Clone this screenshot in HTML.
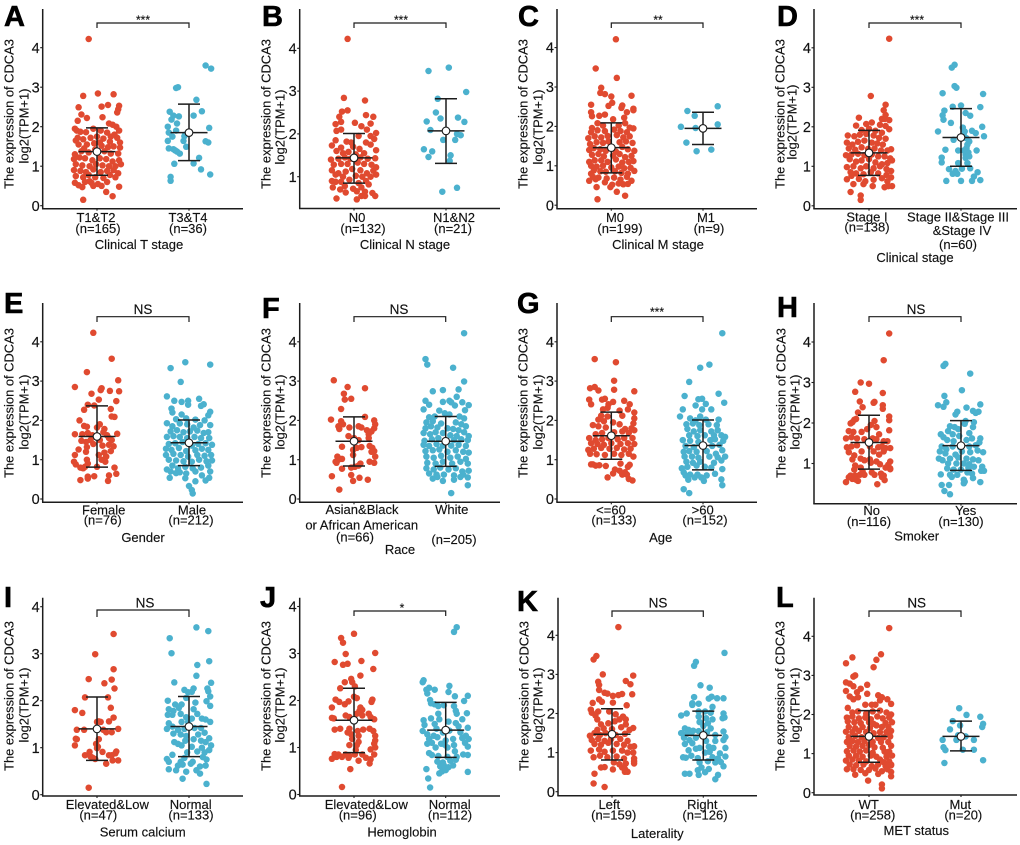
<!DOCTYPE html>
<html lang="en"><head><meta charset="utf-8"><title>CDCA3 expression by clinical subgroup</title>
<style>
html,body{margin:0;padding:0;background:#fff;width:1020px;height:845px;overflow:hidden}
svg{display:block;font-family:"Liberation Sans",Arial,sans-serif;fill:#111}
text{stroke:#111;stroke-width:.15px}
</style></head>
<body>
<svg id="fig" width="1020" height="845" viewBox="0 0 1020 845" xmlns="http://www.w3.org/2000/svg"></svg>
<script>
const panelLetters=["A","B","C","D","E","F","G","H","I","J","K","L"];
const xTitles=["Clinical T stage","Clinical N stage","Clinical M stage","Clinical stage","Gender","Race","Age","Smoker","Serum calcium","Hemoglobin","Laterality","MET status"];
const sigLabels=["***","***","**","***","NS","NS","***","NS","NS","*","NS","NS"];
const tickValues=[[0,1,2,3,4],[1,2,3,4],[0,1,2,3,4],[0,1,2,3,4],[0,1,2,3,4],[0,1,2,3,4],[0,1,2,3,4],[1,2,3,4],[0,1,2,3,4],[0,1,2,3,4],[0,1,2,3,4],[0,1,2,3,4]];
const tickLines=[["T1&T2","(n=165)","T3&T4","(n=36)"],["N0","(n=132)","N1&N2","(n=21)"],["M0","(n=199)","M1","(n=9)"],["Stage I","(n=138)","Stage II&Stage III","&Stage IV","(n=60)"],["Female","(n=76)","Male","(n=212)"],["Asian&Black","or African American","(n=66)","White","(n=205)"],["<=60","(n=133)",">60","(n=152)"],["No","(n=116)","Yes","(n=130)"],["Elevated&Low","(n=47)","Normal","(n=133)"],["Elevated&Low","(n=96)","Normal","(n=112)"],["Left","(n=159)","Right","(n=126)"],["WT","(n=258)","Mut","(n=20)"]];
const lowValues=[[.77,1.14],[.85,1.31],[.82,1.54],[.77,1.0],[.81,.85],[.84,.83],[1.01,.74],[.86,.83],[.73,.81],[.89,.79],[.81,.81],[.78,1.07]];
const meanValues=[[1.37,1.85],[1.44,2.07],[1.46,1.95],[1.34,1.73],[1.59,1.43],[1.47,1.47],[1.61,1.36],[1.52,1.44],[1.40,1.45],[1.58,1.37],[1.47,1.44],[1.44,1.44]];
const highValues=[[1.97,2.57],[2.01,2.82],[2.09,2.36],[1.91,2.46],[2.37,2.01],[2.09,2.10],[2.21,2.01],[2.19,2.06],[2.08,2.09],[2.26,1.96],[2.12,2.06],[2.10,1.83]];

// each point: [horizontal jitter in % of category spacing, expression value]
const seriesA1=[[-9,4.22],[-15,2.78],[1,2.84],[18,2.82],[-20,2.49],[5,2.51],[12,2.55],[24,2.53],[23,2.44],[22,2.36],[-17,2.31],[-11,2.22],[-21,2.15],[6,2.24],[-15,.15],[10,.35],[17,.24],[24,.48],[-24,1.95],[-22,1.9],[-18,1.87],[-12,1.86],[-4,1.95],[4,1.9],[13,2.08],[17,2.05],[21,2],[24,1.9],[11,1.85],[19,1.8],[-21,1.72],[-15,1.68],[-7,1.72],[0,1.75],[7,1.7],[14,1.62],[22,1.72],[25,1.6],[-20,1.55],[-11,1.55],[-3,1.58],[5,1.52],[12,1.48],[18,1.5],[25,1.47],[-24,1.3],[-17,1.38],[-9,1.35],[-2,1.42],[8,1.38],[15,1.32],[23,1.32],[-25,1.18],[-19,1.22],[-13,1.2],[-5,1.15],[3,1.2],[10,1.18],[17,1.12],[24,1.15],[-23,1.05],[-16,1.02],[-8,1],[-1,1.05],[6,1.02],[13,1],[20,1],[26,1.05],[-25,.9],[-18,.88],[-12,.85],[-4,.92],[4,.85],[11,.88],[18,.9],[23,.82],[-23,.75],[-15,.72],[-9,.78],[-2,.72],[7,.7],[14,.78],[20,.72],[-24,.58],[-20,.52],[-13,.6],[-6,.58],[1,.55],[5,.5],[11,.6],[-16,.47],[-4,.5],[-8,.62],[-14,1.45],[3,1.6],[15,1.75],[-23,1.65]];
const seriesA2=[[18,3.55],[24,3.47],[-14,2.98],[-12,3],[8,2.68],[14,2.39],[-21,2.38],[5,2.28],[-11,2.26],[-17,2.28],[-19,2.18],[-13,2.08],[-23,2],[22,1.97],[-14,1.9],[-22,1.85],[-5,1.76],[-18,1.75],[-23,1.64],[-6,1.64],[18,1.63],[21,1.6],[-3,1.49],[-22,1.45],[-17,1.43],[-13,1.37],[-10,1.32],[11,1.21],[-16,1.06],[5,1.07],[13,.92],[23,.79],[-20,.73],[-20,.63],[-4,1.8],[-15,1.4]];
const seriesB1=[[-7,4.22],[-11,2.84],[12,2.78],[-7,2.55],[-13,2.52],[-16,2.4],[13,2.44],[21,2.4],[-20,2.23],[-14,2.28],[1,2.26],[8,2.18],[18,2.24],[-19,2.07],[-14,2.1],[14,2.1],[-19,.49],[3,.47],[20,.62],[23,.55],[8,.55],[12,.55],[-9,.63],[-23,.75],[-20,.88],[24,2.02],[18,1.95],[22,1.88],[5,1.95],[-20,1.85],[-8,1.82],[-3,1.8],[13,1.8],[-24,1.73],[-14,1.68],[-1,1.7],[6,1.65],[18,1.75],[24,1.62],[-19,1.6],[-12,1.55],[-6,1.58],[2,1.52],[11,1.55],[-25,1.4],[-17,1.42],[-10,1.45],[-4,1.42],[7,1.45],[15,1.42],[23,1.43],[-22,1.28],[-14,1.3],[-7,1.3],[4,1.33],[11,1.3],[19,1.28],[24,1.22],[-24,1.15],[-17,1.08],[-9,1.12],[-2,1.18],[7,1.15],[14,1.08],[21,1.14],[-20,1.05],[-12,1],[2,1.02],[9,1],[18,1],[24,1.05],[-14,.88],[-5,.93],[5,.85],[13,.9],[-24,.9],[-10,.78],[-1,.72],[8,.75],[16,.82],[-15,.7],[3,.66],[12,.65]];
const seriesB2=[[3,3.55],[-19,3.47],[22,2.98],[-9,2.82],[-11,2.5],[-6,2.36],[13,2.38],[-21,2.29],[20,2.28],[-17,2.09],[12,2],[16,1.97],[-3,1.86],[10,1.86],[-24,1.64],[-15,1.59],[5,1.5],[-19,1.46],[4,1.37],[-4,.65],[12,.74]];
const seriesC1=[[5,4.21],[-17,3.47],[6,3.23],[-11,2.98],[-12,2.85],[-7,2.82],[0,2.76],[22,2.78],[-22,2.55],[1,2.6],[-3,2.52],[12,2.53],[11,2.47],[24,2.45],[-22,2.36],[-21,2.26],[-13,2.27],[-7,2.3],[14,2.22],[17,2.36],[24,2.41],[-15,.15],[6,.34],[15,.24],[-16,.46],[-24,.62],[-22,.8],[-24,1.1],[-21,1.96],[-15,2.08],[-9,2.02],[2,2.18],[8,2.02],[15,2.08],[20,1.97],[24,1.95],[-22,1.85],[-15,1.9],[-7,1.88],[3,1.92],[10,1.88],[17,1.85],[-25,1.7],[-18,1.75],[-11,1.72],[-4,1.76],[6,1.78],[13,1.72],[20,1.75],[-23,1.55],[-16,1.6],[-9,1.58],[-3,1.62],[9,1.6],[16,1.62],[23,1.58],[-24,1.4],[-19,1.45],[-12,1.42],[-6,1.38],[5,1.36],[12,1.48],[18,1.42],[25,1.38],[-21,1.28],[-14,1.3],[-8,1.24],[2,1.26],[9,1.3],[15,1.22],[22,1.25],[-18,1.14],[-11,1.14],[-4,1.1],[5,1.16],[12,1.08],[19,1.1],[24,1.12],[-22,1],[-16,.98],[-9,1],[0,.96],[8,.98],[14,.94],[21,.95],[-19,.88],[-12,.86],[-6,.85],[4,.86],[11,.82],[18,.8],[25,.87],[-20,.72],[-14,.7],[-5,.68],[3,.7],[10,.65],[17,.72],[22,.62],[-17,.66],[-7,.58],[1,.52],[8,.55],[13,.53],[-1,.46],[18,.54]];
const seriesC2=[[-17,2.39],[16,2.51],[-9,2.27],[16,2.05],[-24,1.99],[-8,1.96],[-18,1.59],[9,1.41],[-7,1.37]];
const seriesD1=[[22,4.23],[2,2.78],[18,2.56],[16,2.42],[18,2.3],[22,2.17],[17,2.2],[14,2.2],[-11,2.23],[-3,2.07],[3,2.11],[22,1.94],[-20,.35],[-9,.26],[-9,.15],[-14,2.03],[12,2.05],[18,2.02],[-8,1.92],[0,1.95],[7,1.9],[14,1.85],[-23,1.78],[-16,1.76],[-10,1.8],[-3,1.82],[5,1.78],[11,1.72],[18,1.7],[-24,1.6],[-18,1.55],[-12,1.62],[-5,1.65],[3,1.6],[9,1.58],[15,1.55],[-22,1.45],[-15,1.42],[-8,1.48],[-1,1.44],[6,1.45],[13,1.4],[20,1.4],[24,1.43],[-25,1.28],[-19,1.3],[-12,1.32],[-5,1.28],[3,1.3],[10,1.25],[17,1.25],[23,1.2],[-21,1.18],[-14,1.12],[-8,1.15],[0,1.18],[7,1.1],[14,1.05],[20,1.08],[25,1.15],[-24,.98],[-17,1],[-9,.95],[-3,1],[5,.95],[12,1],[19,.93],[24,.88],[-20,.85],[-14,.82],[-6,.8],[2,.85],[10,.82],[19,.78],[24,.72],[-24,.67],[-19,.76],[-11,.68],[-4,.62],[5,.66],[14,.7],[20,.62],[25,.5],[-17,.55],[-6,.55],[4,.5],[17,.47],[21,.5]];
const seriesD2=[[-7,3.57],[-10,3.5],[-7,3.03],[-5,2.99],[-20,2.85],[24,2.83],[-9,2.51],[0,2.54],[21,2.5],[-18,2.41],[-20,2.29],[5,2.35],[10,2.28],[-19,2.18],[-11,2.1],[-25,1.88],[2,1.98],[23,2],[4,1.88],[12,1.9],[16,1.84],[25,1.76],[-8,1.67],[6,1.71],[9,1.63],[-17,1.42],[-3,1.4],[6,1.46],[17,1.4],[5,1.29],[-21,1.22],[5,1.21],[-21,1.1],[7,1.08],[-3,1.08],[-13,.93],[1,.94],[10,.95],[18,.85],[-9,.81],[-4,.81],[14,.74],[-16,.63],[0,.63],[12,.63],[21,.65],[-6,.88],[8,1.35],[3,1.78],[7,1.55],[3,1.4],[9,1.25]];
const seriesE1=[[-4,4.23],[16,3.57],[-11,3.23],[23,3.02],[-24,2.85],[5,2.82],[4,2.77],[14,2.75],[24,2.74],[-6,2.68],[2,2.53],[21,2.49],[-10,2.4],[-14,2.27],[15,2.29],[16,2.1],[19,2.09],[-19,2],[-3,2.38],[-14,1.86],[-11,1.84],[3,1.9],[0,1.82],[8,1.78],[-24,1.65],[-16,1.65],[-10,1.68],[-5,1.62],[7,1.7],[11,1.62],[22,1.66],[-17,1.48],[-12,1.45],[-7,1.5],[3,1.5],[13,1.55],[16,1.5],[-20,1.26],[-11,1.32],[-4,1.4],[6,1.36],[13,1.38],[18,1.34],[-24,1.12],[-12,1.2],[2,1.12],[8,1.18],[10,1.08],[15,1.22],[-25,.95],[-23,.88],[-11,1],[-10,.9],[5,1],[9,.95],[-18,.8],[-15,.78],[-13,.82],[0,.82],[-18,.48],[-10,.57],[-3,.58],[13,.6],[12,.46],[21,.64],[19,.8],[-10,.52]];
const seriesE2=[[-20,3.33],[-4,3.48],[23,3.42],[-9,2.98],[-24,2.61],[11,2.55],[-16,2.5],[-1,2.5],[-8,2.47],[16,2.41],[13,2.37],[-1,2.4],[-19,2.3],[23,2.22],[21,2.13],[4,.14],[3,.23],[0,.33],[-21,.54],[7,.45],[18,.47],[22,.54],[-4,.53],[-18,2.2],[-8,2.15],[-14,2.03],[-3,2.05],[7,2.02],[17,2],[-24,1.93],[-18,1.85],[-10,1.92],[-2,1.9],[5,1.82],[12,1.88],[23,1.88],[-20,1.72],[-13,1.75],[-6,1.7],[1,1.72],[9,1.74],[16,1.68],[21,1.7],[-24,1.58],[-17,1.6],[-10,1.58],[-2,1.55],[6,1.58],[13,1.55],[22,1.55],[-22,1.4],[-15,1.42],[-7,1.45],[3,1.36],[10,1.4],[18,1.42],[25,1.38],[-25,1.28],[-19,1.25],[-11,1.3],[-3,1.22],[7,1.24],[14,1.28],[21,1.25],[-25,1.12],[-17,1.15],[-9,1.12],[-1,1.08],[9,1.12],[17,1.1],[24,1.12],[-22,1],[-14,.98],[-6,.96],[3,.95],[11,1],[19,.96],[25,.98],[-24,.75],[-18,.85],[-12,.78],[-4,.82],[4,.78],[13,.8],[21,.85],[-20,.7],[-10,.68],[-3,.65],[7,.7],[14,.6],[23,.7],[-14,.66]];
const seriesF1=[[-22,3.02],[-7,2.85],[12,2.82],[-11,2.68],[-3,2.55],[-10,2.53],[-14,2.29],[12,2.09],[-25,2.02],[-16,.24],[15,.49],[-1,.46],[6,.54],[-3,.61],[-24,.58],[-13,.77],[-14,1.98],[22,2],[23,1.9],[22,1.8],[19,1.72],[-17,1.85],[-16,1.78],[-12,1.9],[-5,1.82],[5,1.85],[8,1.82],[14,1.75],[16,1.65],[-6,1.6],[0,1.55],[5,1.5],[16,1.55],[-13,1.33],[-1,1.25],[3,1.3],[8,1.32],[17,1.35],[20,1.3],[19,1.2],[22,1.22],[-1,1.12],[-18,1.08],[-20,.95],[-17,1],[-13,1.02],[23,1.08],[17,.95],[22,.92],[7,.9],[5,.85],[1,.82],[-19,.92],[-3,.8]];
const seriesF2=[[20,4.22],[-22,3.56],[-20,3.42],[8,3.34],[20,2.99],[14,2.79],[-14,2.74],[-3,2.77],[12,2.6],[-22,2.5],[-18,2.4],[-3,2.47],[4,2.5],[6,2.46],[10,2.38],[18,2.46],[25,2.39],[-24,2.28],[-7,2.25],[21,2.26],[6,.15],[24,.35],[-3,.46],[9,.49],[-1,2.18],[-18,2.08],[-12,2.1],[4,2.15],[15,2.1],[20,2.05],[-21,1.95],[-14,1.98],[-5,1.92],[11,1.95],[17,1.9],[22,1.85],[-22,1.8],[-16,1.85],[-9,1.82],[2,1.8],[8,1.78],[14,1.75],[-24,1.68],[-17,1.65],[-11,1.7],[-3,1.68],[5,1.62],[12,1.6],[20,1.7],[25,1.6],[-23,1.48],[-15,1.52],[-8,1.55],[0,1.5],[9,1.5],[17,1.52],[24,1.5],[-24,1.38],[-18,1.35],[-10,1.4],[-3,1.36],[6,1.36],[14,1.38],[22,1.35],[-22,1.22],[-14,1.24],[-7,1.26],[2,1.2],[11,1.24],[19,1.2],[25,1.18],[-21,1.08],[-13,1.05],[-5,1.1],[5,1.05],[13,1.08],[22,1.02],[-20,.92],[-11,.9],[-3,.95],[7,.9],[16,.95],[24,.9],[-21,.78],[-13,.75],[-6,.8],[3,.75],[11,.78],[18,.7],[25,.72],[-18,.65],[-10,.62],[-2,.62],[9,.6],[19,.62],[-14,.52],[-9,.56],[24,.55],[16,.56]];
const seriesG1=[[-18,3.56],[5,3.48],[3,3.01],[-23,2.82],[-18,2.85],[-14,2.76],[3,2.78],[25,2.74],[-24,2.53],[-22,2.41],[-10,2.53],[-7,2.55],[14,2.5],[2,2.47],[-3,2.41],[20,2.41],[25,2.2],[-4,.55],[2,.65],[23,.47],[19,.51],[20,.87],[-9,2.28],[-4,2.32],[9,2.25],[18,2.28],[-11,2.12],[-4,2.1],[12,2.12],[25,2.05],[-14,2.02],[-8,1.98],[2,1.95],[9,1.9],[24,1.92],[-20,1.88],[-14,1.85],[-6,1.82],[15,1.78],[22,1.8],[25,1.75],[-17,1.65],[-10,1.68],[3,1.7],[12,1.72],[19,1.68],[-24,1.55],[-17,1.5],[-10,1.52],[-3,1.55],[7,1.52],[14,1.55],[23,1.55],[-22,1.42],[-15,1.4],[-8,1.38],[0,1.42],[10,1.4],[18,1.42],[25,1.4],[-25,1.25],[-19,1.28],[-11,1.3],[-2,1.28],[6,1.3],[14,1.26],[21,1.28],[-23,1.15],[-16,1.14],[-7,1.12],[3,1.15],[11,1.12],[19,1.15],[24,1.08],[-20,.88],[-17,.85],[-13,.86],[-6,.84],[10,.9],[18,.82],[4,.75],[9,.72],[15,.68],[12,.62],[17,.62],[-22,.88]];
const seriesG2=[[21,4.22],[7,3.42],[-3,3.34],[-15,2.98],[17,2.68],[-20,2.62],[-5,2.54],[-1,2.55],[23,2.45],[3,2.42],[-8,2.38],[-22,2.28],[9,2.28],[-1,2.28],[-25,2.1],[-3,2.1],[-21,.25],[-15,.15],[21,.35],[20,.5],[1,.46],[-16,.49],[-14,2.05],[-8,2],[3,2.02],[17,2.02],[-18,1.9],[-11,1.92],[-4,1.88],[6,1.9],[15,1.88],[-17,1.78],[-10,1.72],[-3,1.75],[9,1.72],[16,1.75],[-15,1.62],[-6,1.6],[2,1.62],[12,1.62],[20,1.62],[24,1.58],[-22,1.5],[-14,1.48],[-5,1.45],[8,1.5],[13,1.52],[22,1.48],[-19,1.35],[-10,1.32],[-1,1.36],[10,1.35],[18,1.38],[-21,1.2],[-15,1.22],[-7,1.2],[4,1.22],[14,1.15],[21,1.24],[-20,1.08],[-12,1.08],[-5,1.05],[7,1.08],[16,1.06],[24,1.08],[-18,.95],[-11,.92],[-3,.95],[12,.92],[20,.98],[-23,.78],[-17,.82],[-7,.85],[2,.82],[9,.8],[21,.76],[-21,.68],[-14,.62],[-6,.62],[4,.6],[13,.64],[-19,.6],[-9,.55],[-2,.55]];
const seriesH1=[[22,4.21],[16,3.55],[-9,3],[0,2.97],[-15,2.77],[15,2.74],[-10,2.53],[6,2.52],[5,2.5],[-7,2.39],[15,2.44],[15,2.35],[-12,2.26],[22,2.16],[22,2.07],[-16,2.08],[-20,1.99],[-25,.54],[9,.49],[-12,.57],[17,.59],[14,.67],[23,.86],[-14,2.1],[-18,2.02],[6,2.05],[2,1.95],[8,1.9],[22,1.82],[-22,1.8],[-17,1.78],[-8,1.78],[-2,1.85],[11,1.72],[-25,1.62],[-19,1.65],[-13,1.62],[-5,1.6],[4,1.62],[8,1.6],[16,1.55],[20,1.55],[-24,1.4],[-19,1.42],[-13,1.45],[1,1.42],[10,1.4],[14,1.42],[18,1.38],[23,1.38],[-22,1.28],[-16,1.2],[-8,1.3],[5,1.3],[11,1.22],[16,1.3],[-18,1.1],[-9,1.12],[-5,1.08],[1,1.1],[8,1.05],[23,1.05],[-15,.95],[-9,.9],[2,1.02],[12,.98],[21,.97],[18,.9],[23,.88],[-16,.85],[-7,.8],[3,.78],[13,.75],[-20,.7],[-15,.7],[-10,.72],[-5,.72],[6,.72],[-18,.62],[-22,.66],[16,.7],[-14,.6]];
const seriesH2=[[-17,3.46],[-19,3.41],[10,3.22],[1,2.81],[-18,2.67],[-16,2.51],[-25,2.44],[-19,2.4],[21,2.46],[6,2.38],[-4,2.28],[13,2.3],[19,2.28],[16,2.25],[-6,2.21],[-12,.24],[-18,.32],[-13,.47],[-21,.47],[21,.54],[3,.51],[5,2.05],[-12,1.92],[-7,1.9],[14,2.02],[13,1.9],[4,1.98],[-3,1.85],[-14,1.8],[-22,1.72],[-19,1.65],[-9,1.72],[-2,1.68],[9,1.75],[21,1.62],[-15,1.58],[-8,1.55],[6,1.58],[12,1.62],[20,1.52],[-21,1.42],[-16,1.35],[-9,1.42],[-1,1.4],[9,1.42],[16,1.45],[24,1.28],[-23,1.3],[-17,1.25],[-6,1.22],[1,1.3],[10,1.28],[18,1.32],[-24,1.12],[-20,1.08],[-12,1.12],[-3,1.15],[6,1.12],[13,1.1],[19,1.08],[-14,1],[-5,1],[3,1],[9,.98],[-15,.88],[-8,.85],[0,.85],[8,.9],[14,.92],[23,.92],[22,.82],[25,.82],[-22,.73],[-12,.72],[-4,.72],[7,.78],[12,.75],[-10,.67],[3,.6],[13,.64],[4,.55]];
const seriesI1=[[18,3.42],[-2,2.99],[18,2.67],[-9,2.46],[16,2.45],[8,2.37],[19,2.26],[-13,2.07],[12,2.07],[15,1.85],[-24,1.8],[-16,1.74],[18,1.64],[13,1.56],[2,1.56],[4,1.55],[0,1.55],[-22,1.38],[-14,1.38],[23,1.4],[10,1.33],[16,1.33],[7,1.38],[-23,1.19],[-22,1.18],[-24,1.05],[-1,1.08],[1,1.02],[-8,.91],[6,.91],[21,.92],[20,.88],[-13,.84],[13,.84],[16,.84],[-5,.79],[-2,.76],[17,.73],[23,.73],[10,.66],[-9,.15],[-7,.81],[2,1.18],[0,.99]];
const seriesI2=[[8,3.56],[21,3.48],[-21,3.33],[-19,3.01],[9,2.76],[22,2.84],[8,2.53],[-16,2.39],[24,2.38],[20,2.26],[-5,2.23],[5,2.26],[3,2.19],[21,2.2],[-1,2.18],[23,2.09],[-3,2.06],[19,1.99],[-23,2],[23,1.89],[19,.23],[-7,.34],[-22,.54],[-14,.52],[-3,.49],[12,.45],[8,.52],[-15,1.92],[-8,1.92],[7,1.96],[-22,1.82],[-17,1.78],[-11,1.85],[5,1.82],[-23,1.7],[-18,1.7],[-9,1.72],[9,1.72],[14,1.62],[-3,1.65],[3,1.62],[-22,1.52],[-8,1.55],[-1,1.55],[18,1.6],[23,1.55],[-24,1.4],[-18,1.45],[-12,1.38],[-5,1.4],[6,1.42],[13,1.42],[-17,1.3],[-9,1.28],[-3,1.25],[10,1.28],[17,1.32],[22,1.2],[-16,1.12],[-12,1.08],[-4,1.15],[5,1.18],[13,1.15],[18,1.12],[24,1.05],[-8,1.05],[3,1.02],[14,1],[22,.95],[-18,.85],[-2,.9],[9,.92],[17,.9],[-24,.76],[-22,.7],[-9,.7],[-5,.78],[4,.7],[15,.8],[19,.75],[-12,.62],[-7,.64],[2,.66],[12,.6],[18,.62]];
const seriesJ1=[[0,3.42],[-14,3.33],[-12,3.23],[-9,2.99],[23,3.01],[-21,2.82],[-12,2.76],[-7,2.78],[8,2.84],[21,2.67],[7,2.53],[-3,2.46],[-10,2.39],[-2,2.39],[-15,2.26],[1,2.3],[-13,.16],[-4,.54],[17,.66],[20,2.02],[19,1.97],[0,2.08],[-20,2.02],[-16,1.97],[-10,1.92],[-6,1.98],[3,2.05],[-24,1.85],[7,1.85],[6,1.78],[9,1.8],[3,1.72],[16,1.72],[-24,1.63],[-22,1.62],[-9,1.68],[-5,1.65],[9,1.68],[18,1.65],[22,1.6],[-21,1.38],[-15,1.4],[-7,1.32],[-5,1.4],[4,1.35],[10,1.38],[17,1.4],[21,1.35],[-3,1.28],[5,1.25],[23,1.25],[23,1.15],[-2,1.18],[5,1.12],[22,1.08],[3,1.05],[-5,1.05],[18,.96],[23,1],[2,.95],[-21,.86],[-17,.85],[-13,.8],[-9,.85],[-5,.82],[1,.85],[9,.85],[22,.85],[-24,.76],[-19,.8],[-6,.78],[5,.72],[13,.78],[18,.75]];
const seriesJ2=[[12,3.56],[9,3.46],[-24,2.43],[-25,2.39],[4,2.31],[-18,2.27],[-21,2.23],[-12,2.23],[3,2.18],[-20,2.15],[24,2.1],[10,2.09],[-17,2.01],[20,1.99],[-16,1.94],[-17,.15],[-19,.34],[-21,.54],[24,.48],[-7,.45],[-4,.49],[-12,1.92],[-8,1.88],[-2,1.9],[9,1.88],[11,1.78],[-8,1.72],[12,1.72],[23,1.73],[-16,1.62],[-7,1.6],[18,1.6],[-24,1.58],[-23,1.48],[-12,1.5],[3,1.55],[11,1.52],[14,1.45],[24,1.42],[-25,1.35],[-20,1.28],[-10,1.4],[-3,1.32],[4,1.36],[16,1.32],[-18,1.18],[-13,1.25],[-9,1.22],[0,1.15],[8,1.18],[18,1.2],[22,1.25],[25,1.18],[-20,1.08],[-15,1.1],[-5,1.08],[2,1],[9,1.05],[21,1.1],[24,1.02],[-11,1],[-1,1.06],[10,.92],[19,.85],[-18,.88],[-15,.84],[-8,.82],[2,.8],[12,.8],[24,.84],[-9,.7],[-3,.68],[5,.72],[11,.74],[-6,.6],[-2,.62],[3,.58],[8,.62],[0,.52]];
const seriesK1=[[7,4.21],[-17,3.47],[-20,3.38],[-10,3],[23,2.97],[15,2.83],[20,2.75],[-15,2.81],[-14,2.73],[-14,2.6],[-8,2.53],[-5,2.51],[1,2.45],[7,2.47],[11,2.5],[22,2.49],[-14,2.36],[-11,2.3],[-21,2.27],[1,2.28],[16,2.21],[-8,.12],[-20,.21],[-19,.46],[14,.51],[17,.51],[1,.57],[-23,2.1],[-22,2.02],[-15,2.05],[-18,1.95],[-16,1.85],[-3,2.05],[4,1.98],[12,1.92],[8,1.85],[15,1.85],[-12,1.72],[-4,1.75],[3,1.8],[15,1.72],[10,1.65],[23,1.63],[-16,1.58],[-9,1.62],[0,1.6],[19,1.58],[-24,1.43],[-19,1.5],[-13,1.45],[-7,1.5],[4,1.45],[14,1.48],[-22,1.32],[-15,1.35],[-8,1.3],[-1,1.35],[9,1.35],[17,1.3],[-19,1.22],[-12,1.2],[-4,1.25],[5,1.22],[13,1.2],[20,1.15],[24,1.16],[-23,1.05],[-14,1.08],[-8,1.02],[1,1.05],[11,1.05],[17,1],[23,1],[-20,.88],[-13,.92],[-5,.88],[5,.9],[13,.85],[24,.85],[-12,.62],[-8,.63],[2,.75],[8,.7],[15,.72],[24,.72],[24,.78],[11,.62],[14,.58]];
const seriesK2=[[23,3.55],[-8,3.32],[-10,3.22],[-3,2.72],[7,2.66],[-10,2.42],[9,2.43],[15,2.39],[22,2.39],[6,2.38],[-12,2.26],[-5,2.25],[10,2.17],[-12,2.22],[-18,2],[-24,1.95],[13,.32],[16,.43],[-20,.46],[-15,.46],[-5,.43],[-5,2.05],[2,2.05],[8,2.02],[22,2],[23,1.9],[-5,1.92],[3,1.88],[10,1.85],[21,1.88],[-4,1.78],[5,1.75],[0,1.68],[8,1.62],[22,1.54],[-20,1.62],[-16,1.58],[-11,1.56],[-24,1.5],[-18,1.48],[-13,1.5],[-5,1.55],[4,1.52],[13,1.45],[24,1.4],[-21,1.38],[-15,1.32],[-8,1.38],[3,1.3],[13,1.3],[22,1.32],[-20,1.22],[-12,1.24],[-4,1.12],[6,1.15],[11,1.12],[24,1.12],[-16,1.06],[-8,1.1],[2,1],[7,1.02],[18,.98],[-22,.88],[-19,.87],[-13,.92],[-6,.86],[10,.88],[16,.85],[24,.9],[-4,.75],[5,.78],[13,.75],[19,.76],[22,.65],[-2,.62],[6,.58],[-6,.55],[2,.5]];
const seriesL1=[[22,4.21],[-18,3.46],[13,3.54],[8,3.4],[-25,3.31],[5,3.21],[-15,3],[-17,2.97],[-25,2.82],[-21,2.79],[-17,2.72],[-2,2.76],[-25,2.6],[-9,2.66],[-13,2.57],[-2,2.53],[-21,2.46],[-17,2.39],[-12,2.44],[10,2.49],[14,2.44],[20,2.39],[12,2.36],[24,2.27],[-4,2.25],[3,2.25],[7,2.25],[-23,2.17],[14,.11],[14,.21],[-1,.31],[-15,.46],[24,.42],[24,.53],[-18,2.05],[-12,2.08],[-3,2.02],[4,2.08],[12,2.1],[19,2.05],[24,2],[-24,1.92],[-18,1.95],[-11,1.9],[-4,1.92],[2,1.88],[9,1.95],[15,1.9],[22,1.92],[-23,1.82],[-16,1.8],[-9,1.78],[0,1.8],[5,1.76],[18,1.78],[25,1.8],[-22,1.68],[-15,1.65],[-7,1.68],[1,1.65],[8,1.72],[14,1.68],[21,1.68],[-25,1.56],[-18,1.55],[-11,1.58],[-3,1.55],[5,1.52],[12,1.55],[19,1.55],[24,1.58],[-22,1.42],[-15,1.45],[-8,1.42],[1,1.42],[10,1.4],[16,1.42],[23,1.44],[-24,1.3],[-18,1.32],[-12,1.3],[-5,1.32],[4,1.3],[13,1.3],[21,1.3],[-21,1.2],[-14,1.18],[-7,1.2],[0,1.22],[6,1.16],[15,1.15],[24,1.2],[-24,1.06],[-17,1.08],[-10,1.05],[-3,1.08],[4,1.02],[17,1.05],[22,1.05],[-22,.95],[-14,.95],[-7,.92],[2,.95],[8,.92],[19,.92],[25,.95],[-25,.82],[-18,.85],[-11,.82],[-3,.8],[12,.85],[16,.78],[22,.8],[-21,.72],[-14,.7],[-6,.72],[3,.68],[10,.72],[18,.68],[24,.72],[-24,.6],[-17,.6],[-9,.58],[0,.58],[7,.62],[14,.55],[20,.6],[-4,.5],[10,.48],[24,.7]];
const seriesL2=[[-2,2.16],[6,1.99],[21,1.94],[-9,1.83],[24,1.76],[23,1.68],[-12,1.62],[-1,1.72],[-20,1.35],[-4,1.38],[-5,1.35],[14,1.35],[-19,1.16],[-17,1.09],[2,1.1],[14,1.1],[24,.83],[-18,.76],[5,1.44],[-3,1.47]];

const seriesByPanel=[[seriesA1,seriesA2],[seriesB1,seriesB2],[seriesC1,seriesC2],[seriesD1,seriesD2],[seriesE1,seriesE2],[seriesF1,seriesF2],[seriesG1,seriesG2],[seriesH1,seriesH2],[seriesI1,seriesI2],[seriesJ1,seriesJ2],[seriesK1,seriesK2],[seriesL1,seriesL2]];

// layout only
const R1=[222,233], R2=[514.7,524.7], R3=[809,819.7];
const layouts=[
{ax:42.7,top:9,bot:208.7,right:243,v0:205.7,unit:39.5,c:[97,189],br:23,drop:28,sy:24,t1:[9,114],t2:[24,126],let:[4,26],sx:143,tick:[[96,R1[0]],[98,R1[1]],[188,R1[0]],[188,R1[1]]],xt:[139,249]},
{ax:299.7,top:9,bot:208.5,right:500,v0:219.5,unit:42.8,c:[354,446],br:23,drop:28,sy:24,t1:[266,114],t2:[280,127],let:[262,26],sx:401,tick:[[357,R1[0]],[363,R1[1]],[454,R1[0]],[453,R1[1]]],xt:[405,249]},
{ax:557,top:9,bot:208.7,right:757,v0:205.2,unit:39.4,c:[611.3,703],br:23,drop:28,sy:24,t1:[523,114],t2:[538,127],let:[518,26],sx:658,tick:[[615,R1[0]],[620,R1[1]],[706,R1[0]],[709,R1[1]]],xt:[658,249]},
{ax:814,top:9,bot:208.7,right:1017,v0:205.8,unit:39.5,c:[869,961],br:23,drop:28,sy:24,t1:[780,114],t2:[792,122],let:[777,26],sx:917,tick:[[867,221.5],[867,231.5],[958,221.5],[962,235],[958,249]],xt:[915,262]},
{ax:42.7,top:303,bot:502.3,right:243,v0:499,unit:39.3,c:[97,189],br:316.7,drop:322,sy:314,t1:[9,403],t2:[24,412],let:[4,313],sx:143,tick:[[103.7,R2[0]],[102.7,R2[1]],[192,R2[0]],[191,R2[1]]],xt:[143,542]},
{ax:299.7,top:303,bot:502.3,right:500,v0:499,unit:39.3,c:[354,445.7],br:316.7,drop:322,sy:314,t1:[266,403],t2:[280,412],let:[262,318],sx:399,tick:[[362,514],[361.7,529.7],[355,541.7],[451.7,514],[454,544]],xt:[400,554]},
{ax:557,top:303,bot:502.3,right:757,v0:499,unit:39.3,c:[611.3,703],br:316.7,drop:322,sy:316,t1:[523,403],t2:[538,412],let:[517,313],sx:657,tick:[[611,R2[0]],[614,R2[1]],[702.7,R2[0]],[705,R2[1]]],xt:[660.7,542]},
{ax:814,top:303,bot:503.7,right:1017,v0:504,unit:40.5,c:[869,961],br:316.7,drop:322,sy:314,t1:[781,403],t2:[795,412],let:[777,317],sx:916,tick:[[871.7,515],[869,526],[965.7,515],[961,526]],xt:[916.7,540.7]},
{ax:42.7,top:597.7,bot:796,right:243,v0:794.7,unit:47,c:[97,189],br:610,drop:617,sy:607.3,t1:[9,696],t2:[24,705],let:[4,607],sx:145,tick:[[107.3,R3[0]],[98.3,R3[1]],[190.7,R3[0]],[191,R3[1]]],xt:[142.7,836.7]},
{ax:299.7,top:597.7,bot:796,right:500,v0:794.5,unit:47,c:[354,445.7],br:611,drop:616,sy:612,t1:[266,696],t2:[280,705],let:[260,607],sx:402,tick:[[366.3,R3[0]],[357.7,R3[1]],[449.7,R3[0]],[450,R3[1]]],xt:[402,836.7]},
{ax:558,top:597.7,bot:795.7,right:757,v0:791.7,unit:39.1,c:[612,703.3],br:611,drop:617,sy:607.3,t1:[524,696],t2:[538,705],let:[517,611],sx:658,tick:[[609.3,R3[0]],[613.7,R3[1]],[702.3,R3[0]],[705,R3[1]]],xt:[657.3,838]},
{ax:814,top:597.7,bot:795,right:1017,v0:792.7,unit:39.1,c:[869,961],br:611,drop:617,sy:607.3,t1:[780,696],t2:[795,705],let:[776,607],sx:916.7,tick:[[868.7,R3[0]],[872.7,R3[1]],[960.3,R3[0]],[963.3,R3[1]]],xt:[916.3,835]}
];
const groupColors=["#E04A30","#4BB1CE"];
const inkColor="#1c1c1c";
const categorySpacing=92;
const svgNS="http://www.w3.org/2000/svg";
const root=document.getElementById("fig");

function shape(parent,tag,attrs,name){
  const e=document.createElementNS(svgNS,tag);
  for(const k in attrs)e.setAttribute(k,attrs[k]);
  
  
  parent.appendChild(e);
  return e;
}
function label(parent,str,x,y,size,name,anchor,extra){
  const t=shape(parent,"text",Object.assign({x:x,y:y,"font-size":size,"text-anchor":anchor||"middle"},extra||{}),name);
  t.textContent=str;
  return t;
}
function line(parent,x1,y1,x2,y2,w,name){
  return shape(parent,"line",{x1:x1,y1:y1,x2:x2,y2:y2,stroke:inkColor,"stroke-width":w},name);
}

panelLetters.forEach(function(letter,p){
  const L=layouts[p];
  const yScale=function(v){return L.v0-v*L.unit;};
  const xScale=function(g,j){return L.c[g]+(j/100)*categorySpacing;};
  const prefix="panel-"+letter.toLowerCase();
  const g=shape(root,"g",{},prefix);

  label(g,letter,L.let[0],L.let[1],29,prefix+"-letter","start",{"font-weight":"bold",fill:"#000",style:"stroke:#000;stroke-width:.6px"});

  seriesByPanel[p].forEach(function(points,gi){
    const sg=shape(g,"g",{fill:groupColors[gi]},prefix+"-group-"+(gi+1)+"-points");
    points.forEach(function(pt){
      shape(sg,"circle",{cx:xScale(gi,pt[0]).toFixed(1),cy:yScale(pt[1]).toFixed(1),r:3.25},"data-point");
    });
  });

  [0,1].forEach(function(gi){
    const cx=L.c[gi];
    const yl=yScale(lowValues[p][gi]),ym=yScale(meanValues[p][gi]),yh=yScale(highValues[p][gi]);
    line(g,cx,yh,cx,yl,1.5,prefix+"-error-bar");
    line(g,cx-11,yh,cx+11,yh,1.5,prefix+"-upper-cap");
    line(g,cx-11,yl,cx+11,yl,1.5,prefix+"-lower-cap");
    line(g,cx-18.5,ym,cx+18.5,ym,1.5,prefix+"-mean-line");
    shape(g,"circle",{cx:cx,cy:ym,r:3.8,fill:"#fff",stroke:inkColor,"stroke-width":1.1},prefix+"-mean-marker");
  });

  line(g,L.ax,L.top,L.ax,L.bot,1.5,prefix+"-y-axis");
  line(g,L.ax-.7,L.bot,L.right,L.bot,1.5,prefix+"-x-axis");
  tickValues[p].forEach(function(v){
    const y=yScale(v);
    line(g,L.ax-2.5,y,L.ax,y,1.1,prefix+"-y-tick");
    label(g,String(v),L.ax-3,y+5.1,14.5,prefix+"-y-tick-label","end");
  });
  L.c.forEach(function(cx){
    line(g,cx,L.bot,cx,L.bot+2,1.1,prefix+"-x-tick");
  });

  tickLines[p].forEach(function(str,i){
    label(g,str,L.tick[i][0],L.tick[i][1],13,prefix+"-x-tick-label");
  });
  label(g,xTitles[p],L.xt[0],L.xt[1],13,prefix+"-x-axis-title");

  label(g,"The expression of CDCA3",0,0,12.9,prefix+"-y-axis-title",null,{transform:"translate("+(L.t1[0]+4.5)+","+L.t1[1]+") rotate(-90)"});
  label(g,"log2(TPM+1)",0,0,12.9,prefix+"-y-axis-subtitle",null,{transform:"translate("+(L.t2[0]+4.5)+","+L.t2[1]+") rotate(-90)"});

  shape(g,"path",{d:"M"+L.c[0]+" "+L.drop+"V"+L.br+"H"+L.c[1]+"V"+L.drop,fill:"none",stroke:inkColor,"stroke-width":1.2},prefix+"-significance-bracket");
  const isNS=sigLabels[p]==="NS";
  label(g,sigLabels[p],L.sx,L.sy,isNS?13.5:12,prefix+"-significance-label");
});
</script>
</body></html>
